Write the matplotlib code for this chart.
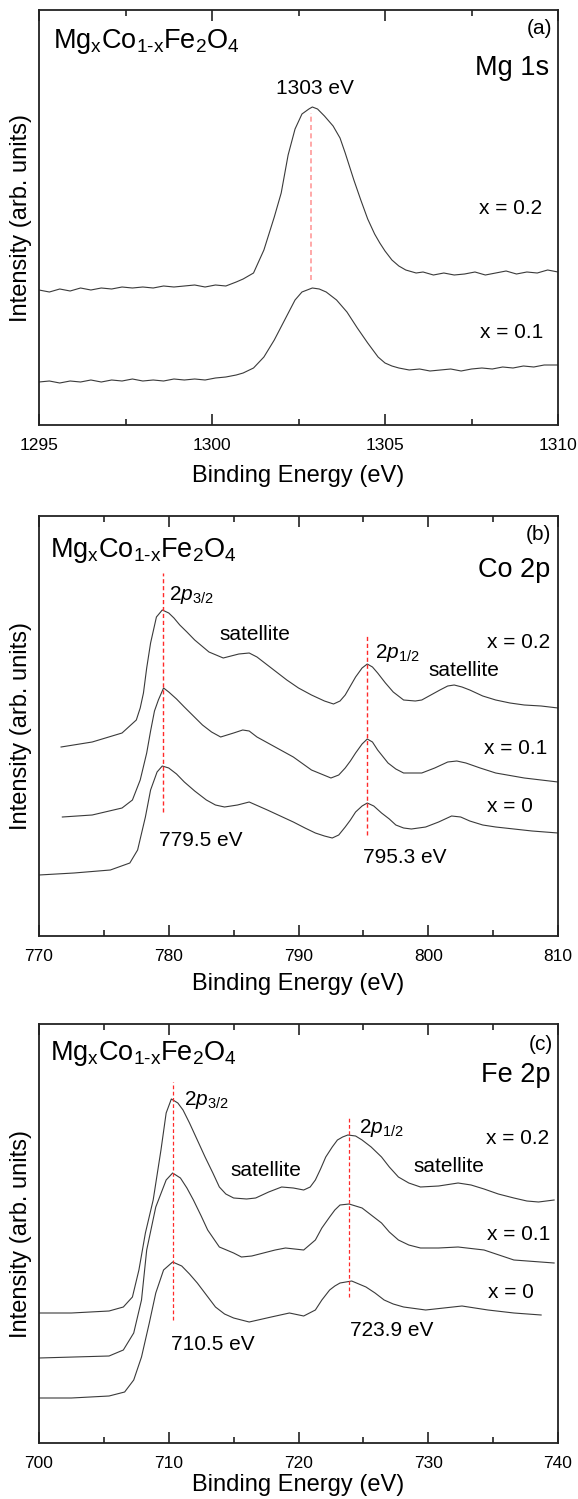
import matplotlib
matplotlib.use("Agg")
import matplotlib.pyplot as plt
from matplotlib.ticker import MultipleLocator

plt.rcParams['font.family'] = ['Liberation Sans', 'DejaVu Sans']
plt.rcParams['mathtext.fontset'] = 'custom'
plt.rcParams['mathtext.rm'] = 'Liberation Sans'
plt.rcParams['mathtext.it'] = 'Liberation Sans:italic'

# ---- Mg 1s ----
mg_e_02 = [1295.0, 1295.3, 1295.6, 1295.9, 1296.2, 1296.5, 1296.8, 1297.1, 1297.4, 1297.7,
           1298.0, 1298.3, 1298.6, 1298.9, 1299.2, 1299.5, 1299.8, 1300.1, 1300.4, 1300.7,
           1300.9, 1301.2, 1301.5, 1301.8, 1302.0, 1302.2, 1302.4, 1302.6, 1302.8, 1302.9,
           1303.05, 1303.25, 1303.5, 1303.7, 1303.85, 1304.1, 1304.3, 1304.5, 1304.7, 1304.85,
           1305.0, 1305.2, 1305.4, 1305.6, 1305.9, 1306.1, 1306.4, 1306.7, 1307.0, 1307.3,
           1307.6, 1307.9, 1308.2, 1308.5, 1308.8, 1309.1, 1309.4, 1309.7, 1310.0]
mg_i_02 = [135, 133, 136, 134, 137, 135, 137, 136, 138, 137,
           138, 137, 139, 138, 139, 140, 138, 140, 139, 143,
           146, 152, 175, 208, 232, 270, 296, 311, 316, 318,
           316, 309, 299, 287, 272, 245, 225, 206, 191, 182,
           174, 165, 159, 155, 152, 153, 150, 152, 150, 151,
           153, 150, 152, 154, 151, 153, 152, 155, 153]
mg_e_01 = [1295.0, 1295.3, 1295.6, 1295.9, 1296.2, 1296.5, 1296.8, 1297.1, 1297.4, 1297.7,
           1298.0, 1298.3, 1298.6, 1298.9, 1299.2, 1299.5, 1299.8, 1300.1, 1300.4, 1300.7,
           1300.9, 1301.2, 1301.5, 1301.8, 1302.1, 1302.4, 1302.6, 1302.9, 1303.1, 1303.3,
           1303.6, 1303.9, 1304.2, 1304.5, 1304.8, 1305.0, 1305.2, 1305.4, 1305.7, 1306.0,
           1306.3, 1306.6, 1306.9, 1307.2, 1307.5, 1307.8, 1308.1, 1308.4, 1308.7, 1309.0,
           1309.3, 1309.6, 1310.0]
mg_i_01 = [43, 44, 42, 44, 43, 45, 43, 45, 44, 46,
           44, 45, 44, 46, 45, 46, 45, 47, 48, 50,
           52, 57, 68, 85, 105, 125, 133, 137, 136, 133,
           125, 113, 97, 82, 68, 62, 59, 57, 55, 56,
           54, 55, 56, 54, 56, 57, 56, 58, 57, 59,
           58, 60, 60]

# ---- Co 2p ----
co_e_02 = [771.7, 774.1, 776.4, 777.5, 777.8, 778.05, 778.3, 778.6, 779.05, 779.5, 780.0,
           780.4, 780.85, 781.4, 782.0, 783.1, 784.2, 785.4, 786.2, 786.8, 787.4, 788.2,
           789.1, 790.0, 791.0, 792.0, 792.7, 793.2, 793.6, 794.0, 794.4, 794.9, 795.3,
           795.7, 796.1, 796.7, 797.3, 798.1, 799.0, 799.5, 800.2, 800.9, 801.5, 802.0,
           802.6, 803.2, 804.2, 805.2, 806.3, 807.4, 808.7, 810.0]
co_i_02 = [189, 194, 203, 216, 228, 243, 268, 293, 319, 326, 323,
           318, 311, 304, 296, 284, 278, 282, 283, 279, 273, 265,
           256, 248, 241, 235, 232, 235, 241, 250, 259, 268, 272,
           269, 263, 253, 244, 236, 235, 236, 241, 246, 250, 251,
           249, 246, 240, 236, 233, 231, 230, 228]
co_e_01 = [771.8, 774.1, 776.4, 777.2, 777.8, 778.3, 778.6, 778.9, 779.2, 779.6, 780.0,
           780.6, 781.2, 781.9, 782.6, 783.3, 784.0, 785.0, 785.7, 786.2, 786.8, 787.5,
           788.2, 789.6, 791.0, 792.5, 793.1, 793.6, 794.0, 794.4, 794.9, 795.3, 795.7,
           796.1, 796.9, 797.5, 798.1, 799.5, 800.5, 801.5, 802.2, 802.9, 804.0, 805.2,
           807.4, 810.0]
co_i_01 = [119, 121, 128, 136, 156, 183, 205, 225, 236, 248, 244,
           237, 229, 220, 211, 204, 199, 203, 206, 205, 199, 194,
           189, 179, 166, 158, 161, 168, 175, 183, 192, 197, 194,
           186, 173, 167, 163, 163, 168, 174, 175, 173, 168, 163,
           158, 154]
co_e_00 = [770.0, 772.7, 775.5, 777.0, 777.6, 778.2, 778.6, 779.1, 779.5, 780.0,
           780.6, 781.2, 782.0, 782.9, 783.6, 784.3, 785.3, 786.2, 786.9, 787.6, 788.6,
           789.6, 790.5, 791.3, 792.0, 792.6, 793.1, 793.6, 794.0, 794.4, 794.9, 795.3,
           795.8, 796.4, 797.0, 797.5, 798.1, 798.7, 799.8, 800.8, 801.8, 802.5, 803.2,
           804.2, 805.2, 806.6, 808.0, 810.0]
co_i_00 = [61, 63, 66, 73, 86, 119, 146, 164, 170, 168,
           162, 154, 145, 136, 131, 129, 131, 134, 130, 126, 120,
           114, 108, 103, 100, 98, 101, 109, 116, 124, 130, 133,
           130, 123, 117, 111, 108, 107, 109, 114, 120, 119, 115,
           111, 109, 107, 105, 103]

# ---- Fe 2p ----
fe_e_02 = [700.0, 702.5, 705.4, 706.5, 707.2, 707.7, 708.2, 708.8, 709.4, 709.8, 710.2,
           710.7, 711.1, 711.6, 712.2, 712.8, 713.4, 713.9, 714.4, 715.0, 716.0, 716.7,
           717.7, 718.7, 719.6, 720.4, 720.9, 721.3, 721.7, 722.1, 722.6, 723.0, 723.4,
           723.8, 724.4, 724.9, 725.6, 726.4, 727.0, 727.7, 728.5, 729.4, 730.8, 732.3,
           733.3, 734.3, 735.4, 736.6, 737.6, 738.5, 739.7]
fe_i_02 = [130, 130, 132, 136, 146, 173, 210, 243, 293, 330, 344,
           340, 333, 320, 303, 286, 270, 256, 249, 245, 244, 245,
           251, 256, 255, 253, 256, 263, 274, 286, 296, 303, 306,
           308, 307, 303, 296, 286, 276, 266, 260, 256, 257, 260,
           258, 254, 249, 245, 242, 241, 243]
fe_e_01 = [700.0, 705.4, 706.5, 707.3, 707.9, 708.3, 709.0, 709.8, 710.3, 710.9,
           711.4, 711.9, 712.5, 713.0, 713.9, 715.0, 715.6, 716.4, 717.3, 718.2, 719.0,
           720.4, 721.3, 721.8, 722.4, 722.8, 723.2, 723.9, 724.9, 725.6, 726.4, 727.0,
           727.7, 728.5, 729.4, 730.8, 732.3, 734.3, 736.6, 739.7]
fe_i_01 = [85, 87, 93, 110, 143, 193, 236, 263, 270, 265,
           255, 243, 227, 213, 196, 190, 186, 187, 190, 193, 195,
           193, 203, 215, 226, 233, 238, 239, 235, 228, 220, 211,
           203, 198, 195, 195, 196, 193, 183, 180]
fe_e_00 = [700.0, 702.5, 705.4, 706.6, 707.3, 707.9, 708.5, 709.0, 709.6, 710.3,
           711.0, 711.6, 712.2, 712.9, 713.6, 714.3, 715.0, 716.2, 717.9, 719.3, 720.4,
           721.3, 721.8, 722.4, 722.8, 723.2, 724.1, 725.2, 725.9, 726.6, 727.3, 728.1,
           729.8, 731.2, 732.6, 734.6, 736.6, 738.7]
fe_i_00 = [45, 45, 47, 51, 63, 86, 120, 150, 173, 181,
           177, 169, 160, 148, 136, 129, 125, 121, 126, 130, 127,
           133, 143, 153, 157, 160, 162, 156, 150, 143, 139, 136,
           133, 135, 137, 133, 130, 128]

formula = r'Mg$_{\mathrm{x}}$Co$_{\mathrm{1\text{-}x}}$Fe$_{\mathrm{2}}$O$_{\mathrm{4}}$'
p32 = r'2$\mathit{p}_{\mathrm{3/2}}$'
p12 = r'2$\mathit{p}_{\mathrm{1/2}}$'

fig = plt.figure(figsize=(5.78, 14.99), dpi=100)
L, W = 39 / 578, 519 / 578
ax_a = fig.add_axes([L, 1 - 425 / 1499, W, 415 / 1499])
ax_b = fig.add_axes([L, 1 - 936 / 1499, W, 420 / 1499])
ax_c = fig.add_axes([L, 1 - 1443 / 1499, W, 419 / 1499])

line_kw = dict(color='#3a3a3a', lw=0.8)


def style(ax, xlim, ylim, major, minor, labelpad):
    ax.set_xlim(*xlim)
    ax.set_ylim(*ylim)
    ax.set_yticks([])
    ax.xaxis.set_major_locator(MultipleLocator(major))
    ax.xaxis.set_minor_locator(MultipleLocator(minor))
    ax.tick_params(axis='x', which='both', direction='in', top=True, width=1.2,
                   color='#222222', labelsize=12.5, pad=9)
    ax.tick_params(axis='x', which='major', length=8)
    ax.tick_params(axis='x', which='minor', length=4)
    for s in ax.spines.values():
        s.set_linewidth(1.3)
        s.set_color('#222222')
    ax.set_xlabel('Binding Energy (eV)', fontsize=17, labelpad=labelpad)
    ax.set_ylabel('Intensity (arb. units)', fontsize=17)
    ax.yaxis.set_label_coords(-0.013, 0.5)


red = '#ff2a2a'
dash = (0, (3, 2))

# (a) Mg 1s
ax_a.plot(mg_e_02, mg_i_02, **line_kw)
ax_a.plot(mg_e_01, mg_i_01, **line_kw)
ax_a.vlines(1302.87, 145, 312, colors='#ff9a9a', linestyles=dash, lw=1.2)
style(ax_a, (1295, 1310), (0, 415), 5, 2.5, 9)
ax_a.text(1295.4, 377, formula, fontsize=19.5, va='baseline')
ax_a.text(1309.82, 397, '(a)', fontsize=15, ha='right', va='center')
ax_a.text(1309.73, 357, 'Mg 1s', fontsize=19.5, ha='right', va='center')
ax_a.text(1302.98, 337, '1303 eV', fontsize=15, ha='center', va='center')
ax_a.text(1309.55, 217, 'x = 0.2', fontsize=15, ha='right', va='center')
ax_a.text(1309.57, 93, 'x = 0.1', fontsize=15, ha='right', va='center')

# (b) Co 2p
ax_b.plot(co_e_02, co_i_02, **line_kw)
ax_b.plot(co_e_01, co_i_01, **line_kw)
ax_b.plot(co_e_00, co_i_00, **line_kw)
ax_b.vlines(779.55, 124, 363, colors=red, linestyles=dash, lw=1.0)
ax_b.vlines(795.3, 101, 300, colors=red, linestyles=dash, lw=1.0)
style(ax_b, (770, 810), (0, 420), 10, 5, 7)
ax_b.text(770.85, 379, formula, fontsize=19.5, va='baseline')
ax_b.text(809.5, 401, '(b)', fontsize=15, ha='right', va='center')
ax_b.text(809.4, 366, 'Co 2p', fontsize=19.5, ha='right', va='center')
ax_b.text(780.0, 341, p32, fontsize=15, ha='left', va='center')
ax_b.text(786.65, 301, 'satellite', fontsize=15, ha='center', va='center')
ax_b.text(809.4, 293, 'x = 0.2', fontsize=15, ha='right', va='center')
ax_b.text(795.9, 283, p12, fontsize=15, ha='left', va='center')
ax_b.text(802.75, 266, 'satellite', fontsize=15, ha='center', va='center')
ax_b.text(809.2, 188, 'x = 0.1', fontsize=15, ha='right', va='center')
ax_b.text(808.05, 129, 'x = 0', fontsize=15, ha='right', va='center')
ax_b.text(779.23, 96, '779.5 eV', fontsize=15, ha='left', va='center')
ax_b.text(794.98, 79, '795.3 eV', fontsize=15, ha='left', va='center')

# (c) Fe 2p
ax_c.plot(fe_e_02, fe_i_02, **line_kw)
ax_c.plot(fe_e_01, fe_i_01, **line_kw)
ax_c.plot(fe_e_00, fe_i_00, **line_kw)
ax_c.vlines(710.35, 123, 361, colors=red, linestyles=dash, lw=0.9)
ax_c.vlines(723.9, 146, 326, colors=red, linestyles=dash, lw=0.9)
style(ax_c, (700, 740), (0, 419), 10, 5, 2.5)
ax_c.text(700.85, 383, formula, fontsize=19.5, va='baseline')
ax_c.text(739.6, 398, '(c)', fontsize=15, ha='right', va='center')
ax_c.text(739.4, 368, 'Fe 2p', fontsize=19.5, ha='right', va='center')
ax_c.text(711.2, 343, p32, fontsize=15, ha='left', va='center')
ax_c.text(724.7, 315, p12, fontsize=15, ha='left', va='center')
ax_c.text(739.35, 305, 'x = 0.2', fontsize=15, ha='right', va='center')
ax_c.text(717.5, 272, 'satellite', fontsize=15, ha='center', va='center')
ax_c.text(731.6, 276, 'satellite', fontsize=15, ha='center', va='center')
ax_c.text(739.4, 208, 'x = 0.1', fontsize=15, ha='right', va='center')
ax_c.text(738.15, 150, 'x = 0', fontsize=15, ha='right', va='center')
ax_c.text(710.16, 99, '710.5 eV', fontsize=15, ha='left', va='center')
ax_c.text(723.97, 113, '723.9 eV', fontsize=15, ha='left', va='center')

fig.savefig('out.png', dpi=100)
